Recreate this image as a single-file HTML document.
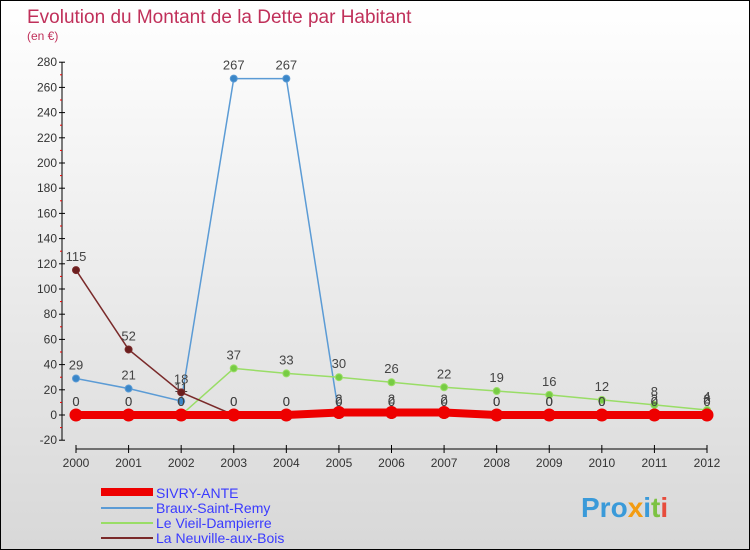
<!DOCTYPE html>
<html><head><meta charset="utf-8">
<style>
body{margin:0;}
#c{width:748px;height:548px;border:1px solid #000;background:linear-gradient(#fff,#d8d8d8);position:relative;font-family:"Liberation Sans",sans-serif;overflow:hidden}
</style></head><body>
<div id="c">
<svg width="748" height="548" id="s">
<text x="26" y="22" font-size="19" fill="#c0305a">Evolution du Montant de la Dette par Habitant</text>
<text x="26" y="39" font-size="12" fill="#c0305a">(en €)</text>
<g id="axes"></g><g id="series"></g>
<g>
<rect x="100" y="487" width="52" height="8" fill="#e00"/>
<text x="155" y="497" font-size="14" fill="#3a3aff">SIVRY-ANTE</text>
<line x1="100" y1="507" x2="152" y2="507" stroke="#5b9bd5" stroke-width="2"/>
<text x="155" y="512" font-size="14" fill="#3a3aff">Braux-Saint-Remy</text>
<line x1="100" y1="522" x2="152" y2="522" stroke="#99dd66" stroke-width="2"/>
<text x="155" y="527" font-size="14" fill="#3a3aff">Le Vieil-Dampierre</text>
<line x1="100" y1="537" x2="152" y2="537" stroke="#7a2a2a" stroke-width="2"/>
<text x="155" y="542" font-size="14" fill="#3a3aff">La Neuville-aux-Bois</text>
</g>
<text x="580" y="516" font-size="28" font-weight="bold" fill="#3a9ad9">Pro<tspan fill="#f39c12">x</tspan><tspan fill="#3a9ad9">i</tspan><tspan fill="#7cc242">t</tspan><tspan fill="#e74c3c">i</tspan></text>
</svg></div>
<script>
const years=[2000,2001,2002,2003,2004,2005,2006,2007,2008,2009,2010,2011,2012];
const yTicks=[-20,0,20,40,60,80,100,120,140,160,180,200,220,240,260,280];
const sivry=[0,0,0,0,0,2,2,2,0,0,0,0,0];
const braux=[29,21,11,267,267,0,0,0,0,0,0,0,0];
const vieil=[0,0,0,37,33,30,26,22,19,16,12,8,4];
const neuville=[115,52,18,0,0,0,0,0,0,0,0,2,2];
const NS="http://www.w3.org/2000/svg";
const xs=i=>75+i*(706-75)/12;
const ys=v=>414-v*(378/300);
function mk(t,a,p){const e=document.createElementNS(NS,t);for(const k in a)e.setAttribute(k,a[k]);p.appendChild(e);return e;}
const ax=document.getElementById('axes'),sg=document.getElementById('series');
const ya=mk('line',{x1:61,y1:ys(280),x2:61,y2:ys(-20),stroke:'#000'},ax);


yTicks.forEach(v=>{const y=ys(v);mk('line',{x1:58,y1:y,x2:64,y2:y,stroke:'#000'},ax);
mk('line',{x1:59,y1:y+12.6,x2:61,y2:y+12.6,stroke:v>-20?'#e00':'none'},ax);
const t=mk('text',{x:56,y:y+4,'font-size':12,'text-anchor':'end',fill:'#333'},ax);t.textContent=v;

});
const xa=mk('line',{x1:75,y1:448,x2:706,y2:448,stroke:'#000'},ax);


years.forEach((yr,i)=>{mk('line',{x1:xs(i),y1:444,x2:xs(i),y2:452,stroke:'#000'},ax);
const t=mk('text',{x:xs(i),y:466,'font-size':12,'text-anchor':'middle',fill:'#333'},ax);t.textContent=yr;

});
function series(d,col,w,r,name,fill){
const g=mk('g',{},sg);


mk('polyline',{points:d.map((v,i)=>xs(i)+','+ys(v)).join(' '),fill:'none',stroke:col,'stroke-width':w},g);
d.forEach((v,i)=>{const c=mk('circle',{cx:xs(i),cy:ys(v),r:r,fill:fill,stroke:col,'stroke-width':w>4?3:1},g);


const t=mk('text',{x:xs(i),y:ys(v)-9,'font-size':13,'text-anchor':'middle',fill:'#444'},g);t.textContent=v;});
}
series(braux,'#5b9bd5',1.5,3.5,'series-braux','#3a86c8');
series(vieil,'#99dd66',1.5,3.5,'series-vieil','#77cc44');
series(neuville,'#7a2a2a',1.5,3.5,'series-neuville','#6b1e1e');
series(sivry,'#e00',8,5,'series-sivry','#e00');
</script>
</body></html>
